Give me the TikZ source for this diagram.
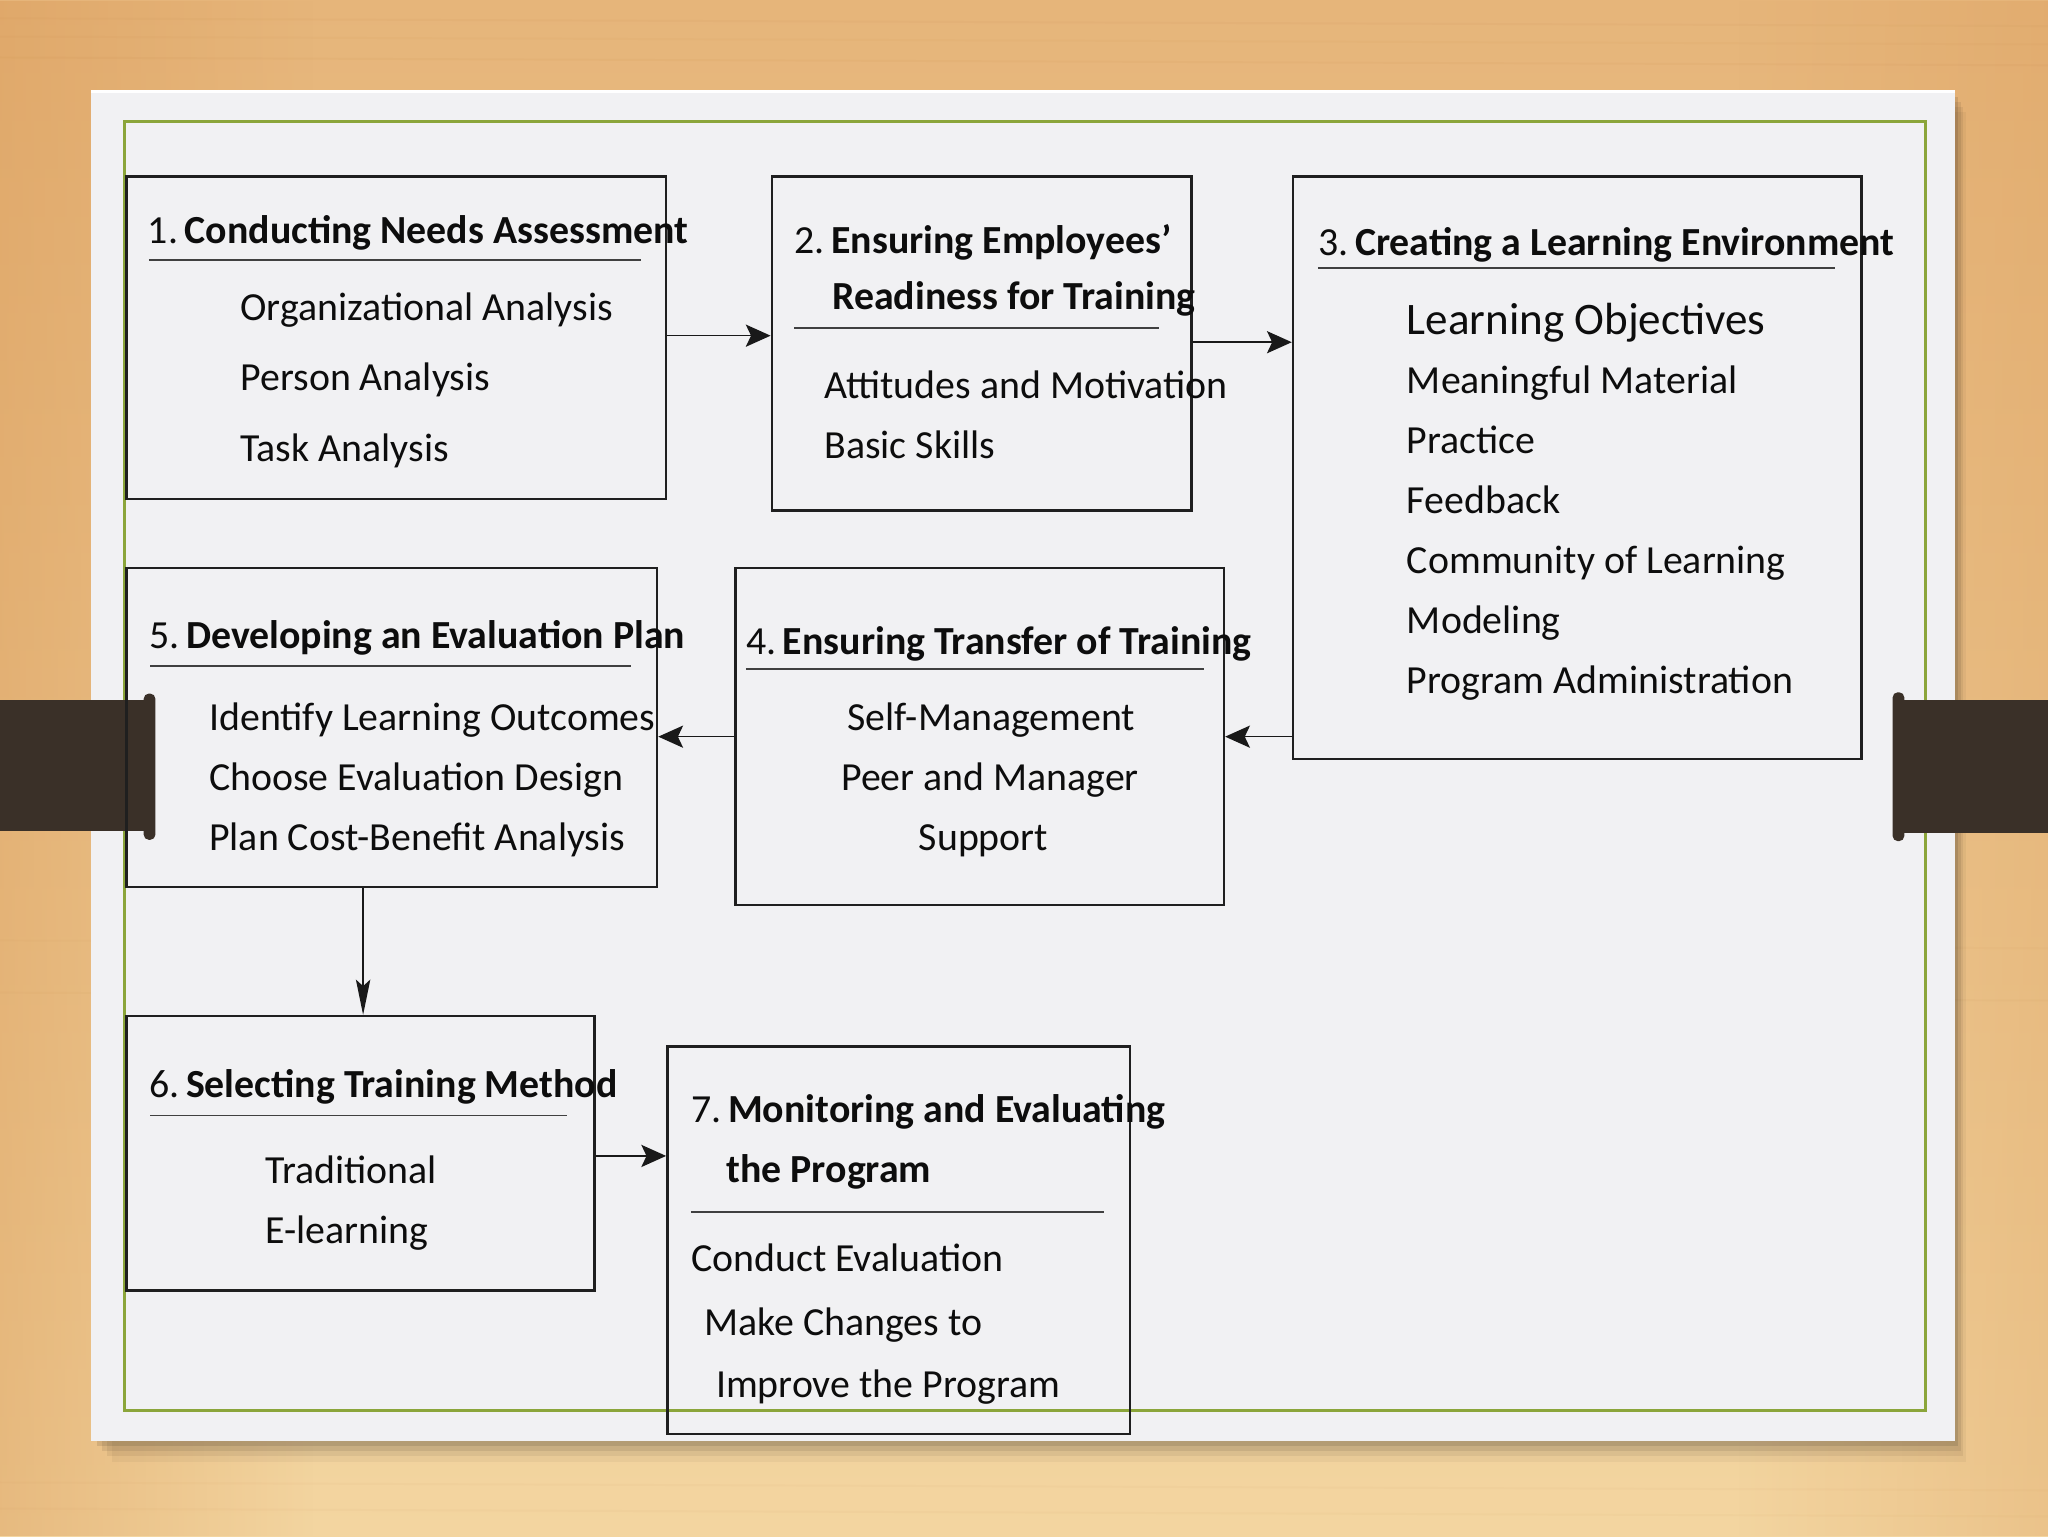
\documentclass[tikz,border=0pt]{standalone}
\usepackage{fontspec}
\setmainfont{Carlito}
\usetikzlibrary{arrows.meta,calc,fadings}
\definecolor{woodA}{HTML}{E6B57A}
\definecolor{woodB}{HTML}{EEC68C}
\definecolor{woodC}{HTML}{F3D5A0}
\definecolor{woodD}{HTML}{D99A58}
\definecolor{card}{HTML}{F1F1F3}
\definecolor{olive}{HTML}{8BA53A}
\definecolor{tabbrown}{HTML}{3A3028}
\begin{document}
\begin{tikzpicture}[x=1pt,y=-1pt,
  box/.style={draw=black!88,line width=2pt,anchor=north west,inner sep=0pt},
  txt/.style={anchor=west,inner sep=0pt,text height=27pt,text depth=6.5pt,font=\fontsize{30.5}{36}\selectfont,text=black!95},
  big/.style={txt,font=\fontsize{34.5}{40}\selectfont},
  uline/.style={line width=1.3pt,draw=black!75},
  arr/.style={line width=1.1pt,draw=black!90,-{Stealth[length=19pt,width=17pt,inset=4pt]}},
  varr/.style={line width=1.1pt,draw=black!90,-{Stealth[length=27pt,width=11pt,inset=5pt]}}]
\useasboundingbox (0,0) rectangle (1568,1176);
% wood background
\shade[top color=woodA,bottom color=woodC] (0,0) rectangle (1568,1176);
\fill[woodD,opacity=0.45,path fading=east] (0,0) rectangle (240,1176);
\fill[woodD,opacity=0.3,path fading=west] (1330,0) rectangle (1568,1176);
\foreach \yy/\oo in {14/0.06,28/0.05,44/0.07,720/0.04,760/0.05,1135/0.04,1155/0.04}{
  \draw[brown,opacity=\oo,line width=1.5pt] (0,\yy) -- (1568,\yy+6);
}
% card shadow
\foreach \d/\o in {4/0.10,8/0.08,12/0.06,16/0.04}{
  \fill[black,opacity=\o] (70+\d,70+\d) rectangle (1497+\d*0.5,1103+\d);
}
% card
\fill[card] (70,70) rectangle (1497,1103);
\draw[white,line width=2pt] (70,70) -- (1497,70);
% green border
\draw[olive,line width=2.2pt] (95,93) rectangle (1474,1080);
% tabs
\fill[tabbrown] (0,536) rectangle (115,636);
\fill[tabbrown,rounded corners=4pt] (110,531) rectangle (119,643);
\fill[tabbrown] (1453,536) rectangle (1568,638);
\fill[tabbrown,rounded corners=4pt] (1449,530) rectangle (1458,644);

% boxes
\node[box,minimum width=413pt,minimum height=247pt] (b1) at (96,134) {};
\node[box,minimum width=321pt,minimum height=256pt] (b2) at (590,134) {};
\node[box,minimum width=435pt,minimum height=446pt] (b3) at (989,134) {};
\node[box,minimum width=406pt,minimum height=244pt] (b5) at (96,434) {};
\node[box,minimum width=374pt,minimum height=258pt] (b4) at (562,434) {};
\node[box,minimum width=358pt,minimum height=210pt] (b6) at (96,777) {};
\node[box,minimum width=354pt,minimum height=297pt] (b7) at (510,800) {};

% box 1
\node[txt] (t1) at (113,176) {1.\,\textbf{Conducting Needs Assessment}};
\coordinate (u1a) at (114,199); \coordinate (u1b) at (491,199);
\draw[uline] (u1a) -- (u1b);
\node[txt] (t1a) at (184,235) {Organizational Analysis};
\node[txt] (t1b) at (184,289) {Person Analysis};
\node[txt] (t1c) at (184,343) {Task Analysis};

% box 2
\node[txt] (t2) at (608,184) {2.\,\textbf{Ensuring Employees’}};
\node[txt] (t2l) at (637,227) {\textbf{Readiness for Training}};
\coordinate (u2a) at (608,251); \coordinate (u2b) at (887,251);
\draw[uline] (u2a) -- (u2b);
\node[txt] (t2a) at (631,295) {Attitudes and Motivation};
\node[txt] (t2b) at (631,341) {Basic Skills};

% box 3
\node[txt] (t3) at (1009,185) {3.\,\textbf{Creating a Learning Environment}};
\coordinate (u3a) at (1009,205); \coordinate (u3b) at (1405,205);
\draw[uline] (u3a) -- (u3b);
\node[big] (t3a) at (1077,246) {Learning Objectives};
\node[txt] (t3b) at (1077,291) {Meaningful Material};
\node[txt] (t3c) at (1077,337) {Practice};
\node[txt] (t3d) at (1077,383) {Feedback};
\node[txt] (t3e) at (1077,429) {Community of Learning};
\node[txt] (t3f) at (1077,475) {Modeling};
\node[txt] (t3g) at (1077,521) {Program Administration};

% box 5
\node[txt] (t5) at (114,486) {5.\,\textbf{Developing an Evaluation Plan}};
\coordinate (u5a) at (115,510); \coordinate (u5b) at (483,510);
\draw[uline] (u5a) -- (u5b);
\node[txt] (t5a) at (160,549) {Identify Learning Outcomes};
\node[txt] (t5b) at (160,595) {Choose Evaluation Design};
\node[txt] (t5c) at (160,641) {Plan Cost-Benefit Analysis};

% box 4
\node[txt] (t4) at (571,491) {4.\,\textbf{Ensuring Transfer of Training}};
\coordinate (u4a) at (571,512); \coordinate (u4b) at (922,512);
\draw[uline] (u4a) -- (u4b);
\node[txt,anchor=center] (t4a) at (759,549) {Self-Management};
\node[txt,anchor=center] (t4b) at (758,595) {Peer and Manager};
\node[txt,anchor=center] (t4c) at (753,641) {Support};

% box 6
\node[txt] (t6) at (114,830) {6.\,\textbf{Selecting Training Method}};
\coordinate (u6a) at (115,854); \coordinate (u6b) at (434,854);
\draw[uline] (u6a) -- (u6b);
\node[txt] (t6a) at (203,896) {Traditional};
\node[txt] (t6b) at (203,942) {E-learning};

% box 7
\node[txt] (t7) at (529,849) {7.\,\textbf{Monitoring and Evaluating}};
\node[txt] (t7l) at (556,895) {\textbf{the Program}};
\coordinate (u7a) at (529,928); \coordinate (u7b) at (845,928);
\draw[uline] (u7a) -- (u7b);
\node[txt] (t7a) at (529,963) {Conduct Evaluation};
\node[txt] (t7b) at (539,1012) {Make Changes to};
\node[txt] (t7c) at (548,1060) {Improve the Program};

% connectors
\draw[arr] (b1.east |- 0,257) -- (b2.west |- 0,257);
\draw[arr] (b2.east |- 0,262) -- (b3.west |- 0,262);
\draw[arr] (b3.west |- 0,564) -- (b4.east |- 0,564);
\draw[arr] (b4.west |- 0,564) -- (b5.east |- 0,564);
\draw[varr] (b5.south -| 278,0) -- (b6.north -| 278,0);
\draw[arr] (b6.east |- 0,885) -- (b7.west |- 0,885);
\end{tikzpicture}
\end{document}
